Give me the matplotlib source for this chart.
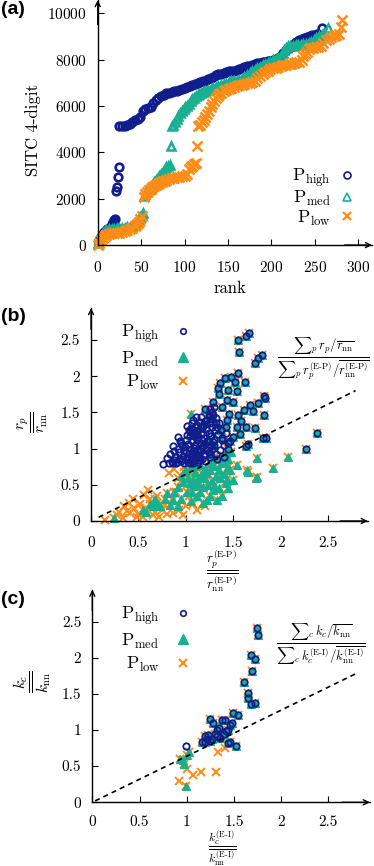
import matplotlib
matplotlib.use('Agg')
import matplotlib.pyplot as plt
import numpy as np
from matplotlib.lines import Line2D
from matplotlib.ticker import FormatStrFormatter

plt.rcParams['font.family'] = ['cmr10', 'DejaVu Serif']
plt.rcParams['mathtext.fontset'] = 'cm'
plt.rcParams['axes.unicode_minus'] = False
plt.rcParams['axes.formatter.use_mathtext'] = True

NAVY = '#111d8c'
TEAL = '#19b092'
ORANGE = '#ff8c17'

# ---- panel (a): SITC code vs rank ----
high_rank = [1, 3, 5, 7, 9, 11, 13, 15, 17, 18, 19, 20, 21, 22, 23, 24,
             25, 28, 31, 34, 37, 40, 43, 46, 49, 52, 55, 58, 61, 64, 67, 70,
             73, 76, 79, 82, 85, 88, 91, 94, 97, 100, 103, 106, 109, 112, 115,
             118, 121, 124, 127, 130, 133, 136, 139, 142, 145, 148, 151, 154,
             157, 160, 163, 166, 169, 172, 175, 178, 181, 184, 187, 190, 193,
             196, 199, 202, 205, 208, 211, 214, 217, 220, 223, 226, 229, 232,
             235, 238, 241, 244, 247, 250, 253, 258]
high_val = [150, 300, 450, 560, 620, 680, 740, 800, 900, 1000, 1080, 1120,
            2330, 2500, 2930, 3350,
            5120, 5130, 5150, 5180, 5230, 5300, 5380, 5440, 5520, 5800,
            5880, 5920, 5960, 6150, 6280, 6360, 6420, 6480, 6540, 6570,
            6600, 6630, 6660, 6690, 6720, 6760, 6800, 6850, 6900, 6950,
            6990, 7030, 7060, 7100, 7160, 7210, 7260, 7320, 7360, 7400,
            7440, 7470, 7490, 7510, 7530, 7550, 7590, 7630, 7670, 7710,
            7740, 7780, 7820, 7850, 7870, 7890, 7910, 7930, 7960, 7990,
            8020, 8080, 8150, 8280, 8420, 8520, 8600, 8680, 8770, 8830,
            8880, 8920, 8960, 9000, 9050, 9080, 9100, 9350]

med_rank = [0, 2, 4, 6, 8, 10, 13, 16, 19, 22, 25, 28, 31, 34, 37, 40, 43, 45,
            47, 49, 51, 52, 53, 55, 57, 59, 61, 63, 65, 67, 69, 71, 73, 75, 77,
            79, 81, 83, 84, 85, 87, 89, 91, 93, 95, 97, 99, 101, 103, 105, 107,
            109, 111, 113, 115, 117, 119, 121, 124, 127, 130, 133, 136, 139,
            142, 145, 148, 151, 154, 157, 160, 163, 166, 169, 172, 175, 178,
            181, 184, 187, 190, 193, 196, 199, 202, 205, 208, 211, 213, 215,
            217, 219, 222, 225, 228, 231, 234, 237, 240, 243, 246, 249, 252,
            255, 258, 261, 265]
med_val = [100, 250, 400, 520, 600, 650, 680, 700, 710, 720, 720, 730, 740,
           760, 790, 830, 900, 980, 1100, 1200, 1300, 1370,
           2100, 2200, 2300, 2400, 2500, 2600, 2700, 2800, 2900, 2980, 3050,
           3150, 3300, 3380, 3420, 3460, 4280,
           5120, 5200, 5300, 5420, 5550, 5680, 5780, 5870, 5940, 6000, 6100,
           6200, 6300, 6360, 6420, 6480, 6530, 6570, 6610, 6650, 6690, 6730,
           6770, 6810, 6850, 6890, 6930, 6970, 7020, 7060, 7080, 7100, 7120,
           7180, 7260, 7350, 7430, 7500, 7570, 7640, 7700, 7760, 7820, 7870,
           7920, 7970, 8010, 8060, 8150, 8300, 8420, 8500, 8570, 8600, 8610,
           8620, 8630, 8640, 8660, 8680, 8700, 8760, 8850, 8920, 9000, 9060,
           9130, 9350]

low_rank = [0, 2, 4, 6, 8, 10, 13, 16, 19, 22, 25, 28, 31, 34, 37, 40, 43, 45,
            47, 49, 51, 53, 55, 57, 59, 61, 63, 65, 67, 69, 71, 73, 75, 77, 79,
            82, 85, 88, 91, 94, 97, 100, 103, 105, 107, 109, 111, 113, 114,
            116, 118, 120, 122, 124, 126, 128, 130, 132, 134, 136, 138, 140,
            142, 145, 148, 151, 154, 157, 160, 163, 166, 169, 172, 175, 178,
            181, 184, 187, 190, 193, 196, 199, 202, 205, 208, 211, 214, 217,
            220, 223, 226, 229, 232, 235, 237, 239, 241, 243, 245, 248, 251,
            254, 257, 260, 263, 266, 269, 272, 275, 278, 280, 281]
low_val = [0, 80, 200, 320, 400, 440, 480, 500, 510, 520, 540, 570, 600, 640,
           680, 740, 820, 900, 1000, 1120, 1250,
           2080, 2200, 2290, 2370, 2440, 2500, 2550, 2600, 2640, 2680, 2720,
           2750, 2780, 2800, 2840, 2880, 2910, 2930, 2950, 2970, 3000, 3050,
           3300, 3380, 3430, 3480, 3530, 4280,
           5120, 5200, 5300, 5400, 5520, 5650, 5800, 5950, 6080, 6200, 6350,
           6450, 6520, 6580, 6640, 6690, 6730, 6770, 6810, 6850, 6890, 6920,
           6950, 6980, 7010, 7040, 7100, 7200, 7300, 7400, 7470, 7530, 7580,
           7620, 7660, 7690, 7720, 7750, 7770, 7800, 7830, 7860, 7890, 7920,
           7980, 8150, 8250, 8350, 8450, 8490, 8510, 8530, 8550, 8600, 8700,
           8830, 8900, 8960, 9000, 9050, 9120, 9400, 9700]

# ---- panel (b): r_p / r_nn ----
# points shared by all three sets
b_all_x = [1.67, 1.64, 1.55, 1.56, 1.73, 1.76, 1.80, 1.55, 1.62, 1.48, 1.41,
           1.36, 1.34, 1.45, 1.54, 1.82, 1.84, 1.68, 1.76, 1.61, 1.71, 1.82,
           1.55, 1.64, 1.73, 1.54, 1.81, 1.85, 1.66, 1.64, 2.27, 2.38, 1.47,
           1.50, 1.29, 1.43, 1.50, 1.38, 1.46, 1.43, 1.32, 1.25, 1.37, 1.57,
           1.42, 1.20, 1.28, 1.17, 1.12, 1.22, 1.30, 1.38, 1.45, 1.10, 1.26,
           1.33, 1.40, 1.58, 1.52, 1.35]
b_all_y = [2.59, 2.55, 2.50, 2.34, 2.18, 2.25, 2.29, 2.04, 1.92, 1.99, 1.97,
           1.90, 1.83, 1.81, 1.79, 1.72, 1.70, 1.60, 1.63, 1.53, 1.52, 1.46,
           1.46, 1.30, 1.28, 1.30, 1.14, 1.14, 1.06, 1.03, 1.00, 1.21, 1.10,
           1.16, 1.65, 1.67, 1.65, 1.58, 1.48, 1.40, 1.36, 1.45, 1.25, 1.20,
           1.30, 1.55, 1.50, 1.30, 1.20, 1.10, 1.05, 1.15, 1.00, 0.95, 0.92,
           0.85, 0.88, 1.38, 1.92, 1.75]
# points only in P_high
b_high_x = [0.76, 0.80, 0.83, 0.87, 0.92, 0.94, 0.89, 0.85, 0.90, 0.95, 0.98,
            1.02, 1.05, 1.08, 0.93, 0.97, 1.00, 1.03, 1.07, 1.10, 1.13, 0.99,
            1.02, 1.05, 1.08, 1.11, 1.14, 0.96, 1.00, 1.04, 1.07, 1.10, 1.13,
            1.16, 1.19, 1.03, 1.06, 1.09, 1.12, 1.15, 1.18, 1.21, 1.24, 1.06,
            1.10, 1.13, 1.16, 1.19, 1.22, 1.25, 1.28, 1.11, 1.15, 1.18, 1.21,
            1.24, 1.27, 1.30, 1.22, 1.25, 1.28, 1.31, 1.34, 1.29, 1.32, 1.35,
            1.26, 1.30, 0.88, 0.93, 1.17, 1.20, 1.26, 1.32, 1.36, 1.40, 1.44,
            1.38, 1.42,
            0.82, 0.86, 0.91, 0.96, 1.01, 1.04, 1.09, 1.12, 1.15, 0.88, 0.92,
            0.98, 1.01, 1.06, 1.09, 1.14, 1.17, 1.21, 0.90, 0.95, 1.01, 1.04,
            1.08, 1.12, 1.16, 1.20, 1.24, 1.27, 1.01, 1.05, 1.09, 1.13, 1.17,
            1.21, 1.25, 1.29, 1.33, 1.08, 1.12, 1.16, 1.20, 1.24, 1.28]
b_high_y = [0.79, 0.87, 0.93, 1.03, 1.16, 1.10, 0.89, 0.82, 0.80, 0.83, 0.80,
            0.81, 0.84, 0.80, 0.95, 0.90, 0.95, 0.92, 0.90, 0.86, 0.82, 1.02,
            1.06, 1.00, 0.97, 0.93, 0.90, 1.05, 1.12, 1.17, 1.10, 1.05, 1.00,
            0.96, 0.92, 1.26, 1.22, 1.17, 1.12, 1.08, 1.04, 1.00, 0.95, 1.35,
            1.30, 1.25, 1.20, 1.15, 1.10, 1.05, 1.00, 1.44, 1.37, 1.32, 1.27,
            1.22, 1.18, 1.12, 1.40, 1.35, 1.30, 1.25, 1.20, 1.47, 1.42, 1.36,
            1.55, 1.58, 0.84, 0.86, 0.86, 0.83, 0.88, 0.92, 0.98, 1.05, 1.08,
            1.12, 1.22,
            0.80, 0.80, 0.82, 0.86, 0.85, 0.80, 0.83, 0.88, 0.84, 0.97, 1.00,
            0.98, 0.89, 0.94, 1.01, 0.96, 1.02, 0.98, 0.88, 1.08, 1.19, 1.23,
            1.26, 1.19, 1.13, 1.06, 1.10, 1.04, 1.31, 1.29, 1.22, 1.16, 1.28,
            1.34, 1.17, 1.09, 1.30, 1.40, 1.33, 1.43, 1.38, 1.47, 1.41]
# points in P_med and P_low
b_med_x = [0.24, 0.675, 0.80, 0.87, 0.92, 0.83, 0.73, 0.55, 0.62, 1.04, 1.15,
           1.26, 1.40, 1.47, 1.50, 1.45, 1.33, 1.22, 1.12, 1.18, 1.29, 1.01,
           1.08, 0.97, 0.92, 1.36, 1.54, 1.66, 1.75, 1.75, 2.08, 1.92, 1.74,
           1.65, 1.05, 1.00, 1.05, 1.10, 1.15, 1.20, 1.25, 1.30, 1.35, 1.40,
           1.45, 1.12, 1.20, 1.28, 1.35, 1.42, 0.95, 1.02, 1.08, 1.15, 1.25,
           1.38, 0.88, 0.78, 0.70, 0.65, 0.95, 1.05, 1.18, 0.58, 1.48, 1.40,
           1.30, 1.10, 1.17, 1.23, 1.32, 1.44, 0.98, 1.06, 1.14, 1.22, 1.30,
           1.37, 1.43]
b_med_y = [0.04, 0.31, 0.38, 0.29, 0.20, 0.22, 0.20, 0.15, 0.24, 0.52, 0.61,
           0.70, 0.80, 0.70, 0.57, 0.45, 0.29, 0.29, 0.34, 0.47, 0.43, 0.40,
           0.57, 0.54, 0.47, 0.59, 0.77, 0.68, 0.61, 0.87, 0.89, 0.73, 0.59,
           0.70, 1.48, 0.70, 0.75, 0.68, 0.78, 0.72, 0.80, 0.76, 0.70, 0.65,
           0.85, 0.55, 0.60, 0.55, 0.45, 0.52, 0.62, 0.60, 0.48, 0.40, 0.35,
           0.35, 0.40, 0.30, 0.25, 0.20, 0.30, 0.28, 0.25, 0.12, 0.95, 0.90,
           0.88, 0.76, 0.66, 0.50, 0.62, 0.74, 0.68, 0.40, 0.50, 0.66, 0.48,
           0.80, 0.58]
# points only in P_low
b_low_x = [0.15, 0.27, 0.34, 0.38, 0.41, 0.45, 0.48, 0.50, 0.52, 0.55, 0.58,
           0.60, 0.62, 0.65, 0.68, 0.70, 0.72, 0.75, 0.78, 0.80, 0.82, 0.85,
           0.87, 0.90, 0.93, 0.97, 1.00, 1.03, 1.08, 1.12, 0.40, 0.44, 0.35,
           0.30, 0.56, 0.95, 1.00, 0.92, 0.88, 1.20, 1.10, 0.98, 1.05]
b_low_y = [0.01, 0.08, 0.04, 0.14, 0.11, 0.18, 0.06, 0.10, 0.24, 0.05, 0.18,
           0.43, 0.30, 0.08, 0.13, 0.35, 0.05, 0.15, 0.22, 0.10, 0.66, 0.30,
           0.11, 0.40, 0.15, 0.08, 0.20, 0.35, 0.24, 0.15, 0.25, 0.30, 0.20,
           0.12, 0.36, 0.55, 0.48, 0.60, 0.72, 0.20, 0.62, 0.75, 0.66]
b_ratio = 0.645
b_line_x = [0.08, 2.79]

# ---- panel (c): k_c / k_nn ----
c_all_x = [1.75, 1.76, 1.68, 1.72, 1.69, 1.61, 1.65, 1.65, 1.68, 1.72, 1.49,
           1.54, 1.25, 1.28, 1.37, 1.41, 1.32, 1.46, 1.48, 1.44, 1.39, 1.32,
           1.19, 1.23, 1.16, 1.19, 1.25, 1.46, 1.44, 1.35, 1.52, 1.30, 1.34,
           1.42, 1.27, 1.21]
c_all_y = [2.41, 2.31, 2.04, 1.98, 1.82, 1.67, 1.51, 1.44, 1.36, 1.38, 1.23,
           1.21, 1.15, 1.10, 1.14, 1.14, 1.00, 1.07, 1.10, 1.00, 0.95, 0.91,
           0.91, 0.93, 0.84, 0.84, 0.85, 0.84, 0.82, 0.89, 0.78, 0.95, 1.03,
           0.98, 0.88, 0.87]
c_high_x = [0.99]
c_high_y = [0.78]
c_med_x = [1.02, 1.00, 0.96, 0.975, 0.99, 0.93]
c_med_y = [0.70, 0.65, 0.58, 0.53, 0.22, 0.60]
c_low_x = [0.92, 1.07, 1.15, 1.31, 1.33, 1.41, 1.00]
c_low_y = [0.29, 0.38, 0.42, 0.42, 0.70, 0.75, 0.46]
c_ratio = 0.637
c_line_x = [0.03, 2.80]

labels = [r'$\mathrm{P}_{\mathrm{high}}$', r'$\mathrm{P}_{\mathrm{med}}$',
          r'$\mathrm{P}_{\mathrm{low}}$']

W, H = 374, 866
fig = plt.figure(figsize=(W / 100, H / 100), dpi=100)


def px_axes(l, t, r, b):
    return fig.add_axes([l / W, 1 - b / H, (r - l) / W, (b - t) / H])


def arrow_axes(ax, xmax, ymax, xpad=11):
    for s in ['top', 'right']:
        ax.spines[s].set_visible(False)
    for s in ['left', 'bottom']:
        ax.spines[s].set_position(('data', 0))
        ax.spines[s].set_linewidth(1.0)
    ax.spines['left'].set_bounds(0, ymax)
    ax.spines['bottom'].set_bounds(0, xmax)
    ap = dict(arrowstyle='->', color='k', lw=1.0, shrinkA=0, shrinkB=0,
              mutation_scale=9)
    ax.annotate('', xy=(xmax, 0), xytext=(0.9 * xmax, 0), arrowprops=ap,
                annotation_clip=False)
    ax.annotate('', xy=(0, ymax), xytext=(0, 0.9 * ymax), arrowprops=ap,
                annotation_clip=False)
    ax.tick_params(direction='in', length=4, width=0.8, labelsize=11)
    ax.tick_params(axis='x', pad=xpad)
    ax.tick_params(axis='y', pad=8)


# (a)
ax1 = px_axes(93.4, 0.1, 372, 252)
ax1.plot(high_rank, high_val, 'o', color=NAVY, mfc='none', ms=5.5, mew=1.9)
ax1.plot(med_rank, med_val, '^', color=TEAL, mfc='none', ms=6, mew=1.8)
ax1.plot(low_rank, low_val, 'x', color=ORANGE, ms=6.5, mew=1.8)
ax1.set_xlim(-5, 316)
ax1.set_ylim(-300, 10570)
arrow_axes(ax1, 316, 10570)
ax1.set_xticks([0, 50, 100, 150, 200, 250, 300])
ax1.set_yticks([0, 2000, 4000, 6000, 8000, 10000])
h_a = [Line2D([], [], ls='none', marker='o', color=NAVY, mfc='none', ms=5, mew=1.2),
       Line2D([], [], ls='none', marker='^', color=TEAL, mfc='none', ms=5.5, mew=1.2),
       Line2D([], [], ls='none', marker='x', color=ORANGE, ms=6, mew=1.6)]
ax1.legend(h_a, labels, loc='upper right', bbox_to_anchor=(354 / W, 1 - 166 / H),
           bbox_transform=fig.transFigure, frameon=False, markerfirst=False,
           handlelength=0.8, handletextpad=0.5, labelspacing=0.02,
           borderpad=0, borderaxespad=0, fontsize=13)
fig.text(230 / W, 1 - 288 / H, 'rank', ha='center', va='center', fontsize=12)
fig.text(33 / W, 1 - 130 / H, 'SITC 4-digit', ha='center', va='center',
         rotation=90, fontsize=12)


def scatter_panel(ax, all_x, all_y, hx, hy, mx, my, lx, ly):
    low_x = np.concatenate([all_x, mx, lx])
    low_y = np.concatenate([all_y, my, ly])
    med_x = np.concatenate([all_x, mx])
    med_y = np.concatenate([all_y, my])
    high_x = np.concatenate([all_x, hx])
    high_y = np.concatenate([all_y, hy])
    ax.plot(low_x, low_y, 'x', color=ORANGE, ms=5.5, mew=1.4)
    ax.plot(med_x, med_y, '^', color=TEAL, ms=5.5, mew=0.8)
    ax.plot(high_x, high_y, 'o', color=NAVY, mfc='none', ms=4.6, mew=1.3)


def scatter_legend(ax, top):
    h = [Line2D([], [], ls='none', marker='o', color=NAVY, mfc='none', ms=4, mew=1.2),
         Line2D([], [], ls='none', marker='^', color=TEAL, ms=6.5),
         Line2D([], [], ls='none', marker='x', color=ORANGE, ms=6, mew=1.5)]
    ax.legend(h, labels, loc='upper right', bbox_to_anchor=(190 / W, 1 - top / H),
              bbox_transform=fig.transFigure, frameon=False, markerfirst=False,
              handlelength=0.8, handletextpad=0.9, labelspacing=0.25,
              borderpad=0, borderaxespad=0, fontsize=13)


ticks_b = [0, 0.5, 1, 1.5, 2, 2.5]

# (b)
ax2 = px_axes(86.3, 308.1, 367.8, 524.6)
scatter_panel(ax2, b_all_x, b_all_y, b_high_x, b_high_y, b_med_x, b_med_y,
              b_low_x, b_low_y)
ax2.plot(b_line_x, [b_ratio * v for v in b_line_x], color='k', lw=1.2,
         ls=(0, (3, 2.5)))
ax2.set_xlim(-0.05, 2.92)
ax2.set_ylim(-0.05, 2.94)
arrow_axes(ax2, 2.92, 2.94)
ax2.set_xticks(ticks_b)
ax2.set_yticks(ticks_b)
ax2.xaxis.set_major_formatter(FormatStrFormatter('%g'))
ax2.yaxis.set_major_formatter(FormatStrFormatter('%g'))
scatter_legend(ax2, 322)
fig.text(277 / W, 1 - 359 / H,
         r'$\frac{{\sum}_p\, r_p/\overline{r_{\rm nn}}}'
         r'{{\sum}_p\, r_p^{(\text{E-P})}/\overline{r_{\rm nn}^{(\text{E-P})}}}$',
         ha='left', va='center', fontsize=13)
fig.text(222 / W, 1 - 571 / H,
         r'$\dfrac{r_p^{(\text{E-P})}}{\overline{r_{\rm nn}^{(\text{E-P})}}}$',
         ha='center', va='center', fontsize=9.5)
fig.text(33 / W, 1 - 422 / H, r'$\dfrac{r_p}{\overline{r_{\rm nn}}}$',
         ha='center', va='center', rotation=90, fontsize=11)

# (c)
ax3 = px_axes(87.6, 589.7, 369.8, 805.9)
scatter_panel(ax3, c_all_x, c_all_y, c_high_x, c_high_y, c_med_x, c_med_y,
              c_low_x, c_low_y)
ax3.plot(c_line_x, [c_ratio * v for v in c_line_x], color='k', lw=1.2,
         ls=(0, (3, 2.5)))
ax3.set_xlim(-0.05, 2.94)
ax3.set_ylim(-0.05, 2.94)
arrow_axes(ax3, 2.94, 2.94, xpad=9)
ax3.set_xticks(ticks_b)
ax3.set_yticks(ticks_b)
ax3.xaxis.set_major_formatter(FormatStrFormatter('%g'))
ax3.yaxis.set_major_formatter(FormatStrFormatter('%g'))
scatter_legend(ax3, 604)
fig.text(321 / W, 1 - 644 / H,
         r'$\frac{{\sum}_c\, k_c/\overline{k_{\rm nn}}}'
         r'{{\sum}_c\, k_c^{(\text{E-I})}/\overline{k_{\rm nn}^{(\text{E-I})}}}$',
         ha='center', va='center', fontsize=13)
fig.text(222 / W, 1 - 848 / H,
         r'$\dfrac{k_c^{(\text{E-I})}}{\overline{k_{\rm nn}^{(\text{E-I})}}}$',
         ha='center', va='center', fontsize=8.5)
fig.text(33 / W, 1 - 682 / H, r'$\dfrac{k_c}{\overline{k_{\rm nn}}}$',
         ha='center', va='center', rotation=90, fontsize=11)

for lab, y in [('(a)', 1), ('(b)', 308), ('(c)', 591)]:
    fig.text(1 / W, 1 - y / H, lab, ha='left', va='top', fontsize=14,
             fontweight='bold', family='Liberation Sans')

fig.savefig('out.png', dpi=100)
